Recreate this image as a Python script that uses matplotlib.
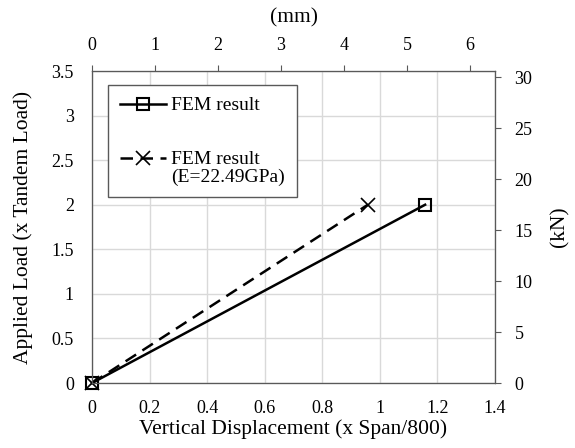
import numpy as np
import matplotlib.pyplot as plt
from matplotlib.legend_handler import HandlerLine2D

plt.rcParams['font.family'] = ['Liberation Serif', 'DejaVu Serif']

# data (x Span/800 vs x Tandem Load)
fem_x = [0.0, 1.157]
fem_y = [0.0, 2.0]
fem_e_x = [0.0, 0.958]
fem_e_y = [0.0, 2.0]

mm_per_unit = 6.4 / 1.4
kn_per_unit = 8.75

spine_col = '#595959'


class ShiftedLine(HandlerLine2D):
    # put the handle level with the first line of a two-line label
    def __init__(self, dy, **kw):
        super().__init__(**kw)
        self.dy = dy

    def create_artists(self, legend, orig_handle, xdescent, ydescent,
                       width, height, fontsize, trans):
        arts = super().create_artists(legend, orig_handle, xdescent, ydescent,
                                      width, height, fontsize, trans)
        for a in arts:
            a.set_ydata(np.asarray(a.get_ydata()) + self.dy * fontsize)
        return arts


fig = plt.figure(figsize=(5.75, 4.48), dpi=100)
ax = fig.add_axes([0.16, 0.145, 0.701, 0.6965])

l1, = ax.plot(fem_x, fem_y, color='black', lw=1.8, marker='s', ms=8,
              mfc='none', mew=1.5, label='FEM result', clip_on=False,
              zorder=4)
l2, = ax.plot(fem_e_x, fem_e_y, color='black', lw=1.8, ls=(0, (5, 3)),
              marker='x', ms=9.5, mew=1.2, label='FEM result\n(E=22.49GPa)',
              clip_on=False, zorder=4)

ax.set_xlim(0, 1.4)
ax.set_ylim(0, 3.5)
ax.set_xticks(np.arange(0, 1.41, 0.2))
ax.set_xticklabels(['0', '0.2', '0.4', '0.6', '0.8', '1', '1.2', '1.4'])
ax.set_yticks(np.arange(0, 3.51, 0.5))
ax.set_yticklabels(['0', '0.5', '1', '1.5', '2', '2.5', '3', '3.5'])
ax.tick_params(axis='x', length=0, labelsize=13, pad=12)
ax.tick_params(axis='y', length=0, labelsize=13, pad=13)
ax.grid(color='#d9d9d9', lw=1)
ax.set_axisbelow(True)
ax.set_xlabel('Vertical Displacement (x Span/800)', fontsize=15.5, labelpad=2)
ax.set_ylabel('Applied Load (x Tandem Load)', fontsize=15.5, labelpad=13)

top = ax.twiny()
top.set_xlim(0, 1.4 * mm_per_unit)
top.set_xticks(range(0, 7))
top.tick_params(direction='out', length=4, labelsize=13, pad=8,
                color=spine_col)
top.set_xlabel('(mm)', fontsize=15.5, labelpad=11)

right = ax.twinx()
right.set_ylim(0, 3.5 * kn_per_unit)
right.set_yticks(range(0, 31, 5))
right.tick_params(direction='out', length=4, labelsize=13, pad=10,
                  color=spine_col)
right.set_ylabel('(kN)', fontsize=15.5, labelpad=13)

for a in (ax, top, right):
    for s in a.spines.values():
        s.set_color(spine_col)

leg = ax.legend(handles=[l1, l2], loc='upper left',
                bbox_to_anchor=(0.04, 0.955), borderaxespad=0, fontsize=14,
                frameon=True, fancybox=False, edgecolor=spine_col,
                framealpha=1, handlelength=2.4, labelspacing=1.9,
                borderpad=0.6, handletextpad=0.25,
                handler_map={l2: ShiftedLine(0.5)})
leg.get_frame().set_linewidth(1)
leg.set_zorder(5)
for t in leg.get_texts():
    t.set_linespacing(1.0)

fig.savefig('out.png', dpi=100)
